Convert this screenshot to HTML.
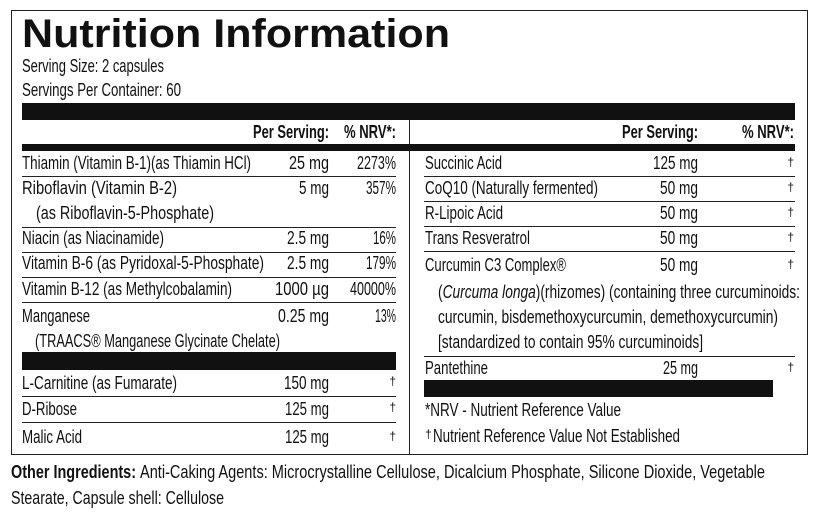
<!DOCTYPE html>
<html><head><meta charset="utf-8"><style>
html,body{margin:0;padding:0;background:#fff;}
svg{display:block}
text{font-family:"Liberation Sans",sans-serif;font-size:18px;fill:#111}
.b{font-weight:bold}
.r{text-anchor:end}
.d{font-size:12px}
</style></head><body>
<svg width="817" height="522" viewBox="0 0 817 522" xmlns="http://www.w3.org/2000/svg">
<rect x="11.5" y="10.5" width="796" height="444" fill="none" stroke="#222" stroke-width="1"/>
<text x="22" y="47" style="font-size:40px;font-weight:900" textLength="428" lengthAdjust="spacingAndGlyphs">Nutrition Information</text>
<text x="22" y="72" textLength="142" lengthAdjust="spacingAndGlyphs">Serving Size: 2 capsules</text>
<text x="22" y="96" textLength="159" lengthAdjust="spacingAndGlyphs">Servings Per Container: 60</text>
<rect x="22" y="103" width="773" height="17" fill="#111"/>
<line x1="409.5" y1="120" x2="409.5" y2="454" stroke="#222" stroke-width="1"/>
<text x="329" y="138" class="b r" textLength="76" lengthAdjust="spacingAndGlyphs">Per Serving:</text>
<text x="396" y="138" class="b r" textLength="52" lengthAdjust="spacingAndGlyphs">% NRV*:</text>
<text x="698" y="138" class="b r" textLength="76" lengthAdjust="spacingAndGlyphs">Per Serving:</text>
<text x="794" y="138" class="b r" textLength="52" lengthAdjust="spacingAndGlyphs">% NRV*:</text>
<rect x="22" y="144" width="773" height="7" fill="#111"/>
<g stroke="#222" stroke-width="1">
<line x1="22" y1="176.5" x2="396" y2="176.5"/>
<line x1="22" y1="227.5" x2="396" y2="227.5"/>
<line x1="22" y1="252.5" x2="396" y2="252.5"/>
<line x1="22" y1="277.5" x2="396" y2="277.5"/>
<line x1="22" y1="302.5" x2="396" y2="302.5"/>
<line x1="22" y1="396.5" x2="396" y2="396.5"/>
<line x1="22" y1="422.5" x2="396" y2="422.5"/>
<line x1="424" y1="176.5" x2="795" y2="176.5"/>
<line x1="424" y1="201.5" x2="795" y2="201.5"/>
<line x1="424" y1="226.5" x2="795" y2="226.5"/>
<line x1="424" y1="251.5" x2="795" y2="251.5"/>
<line x1="424" y1="356.5" x2="795" y2="356.5"/>
</g>
<g>
<text x="22" y="169" textLength="229" lengthAdjust="spacingAndGlyphs">Thiamin (Vitamin B-1)(as Thiamin HCl)</text><text x="329" y="169" class="r" textLength="40" lengthAdjust="spacingAndGlyphs">25 mg</text><text x="396" y="169" class="r" textLength="39" lengthAdjust="spacingAndGlyphs">2273%</text>
<text x="22" y="194" textLength="155" lengthAdjust="spacingAndGlyphs">Riboflavin (Vitamin B-2)</text><text x="329" y="194" class="r" textLength="30" lengthAdjust="spacingAndGlyphs">5 mg</text><text x="396" y="194" class="r" textLength="30" lengthAdjust="spacingAndGlyphs">357%</text>
<text x="36" y="219" textLength="178" lengthAdjust="spacingAndGlyphs">(as Riboflavin-5-Phosphate)</text>
<text x="22" y="244" textLength="142" lengthAdjust="spacingAndGlyphs">Niacin (as Niacinamide)</text><text x="329" y="244" class="r" textLength="42" lengthAdjust="spacingAndGlyphs">2.5 mg</text><text x="396" y="244" class="r" textLength="23" lengthAdjust="spacingAndGlyphs">16%</text>
<text x="22" y="269" textLength="242" lengthAdjust="spacingAndGlyphs">Vitamin B-6 (as Pyridoxal-5-Phosphate)</text><text x="329" y="269" class="r" textLength="42" lengthAdjust="spacingAndGlyphs">2.5 mg</text><text x="396" y="269" class="r" textLength="30" lengthAdjust="spacingAndGlyphs">179%</text>
<text x="22" y="295" textLength="210" lengthAdjust="spacingAndGlyphs">Vitamin B-12 (as Methylcobalamin)</text><text x="329" y="295" class="r" textLength="54" lengthAdjust="spacingAndGlyphs">1000 µg</text><text x="396" y="295" class="r" textLength="46" lengthAdjust="spacingAndGlyphs">40000%</text>
<text x="22" y="322" textLength="68" lengthAdjust="spacingAndGlyphs">Manganese</text><text x="329" y="322" class="r" textLength="51" lengthAdjust="spacingAndGlyphs">0.25 mg</text><text x="396" y="322" class="r" textLength="21" lengthAdjust="spacingAndGlyphs">13%</text>
<text x="35" y="347" textLength="245" lengthAdjust="spacingAndGlyphs">(TRAACS® Manganese Glycinate Chelate)</text>
<rect x="22" y="352" width="374" height="18" fill="#111"/>
<text x="22" y="389" textLength="155" lengthAdjust="spacingAndGlyphs">L-Carnitine (as Fumarate)</text><text x="329" y="389" class="r" textLength="45" lengthAdjust="spacingAndGlyphs">150 mg</text><text x="396" y="385" class="r d">†</text>
<text x="22" y="415" textLength="55" lengthAdjust="spacingAndGlyphs">D-Ribose</text><text x="329" y="415" class="r" textLength="44" lengthAdjust="spacingAndGlyphs">125 mg</text><text x="396" y="411" class="r d">†</text>
<text x="22" y="443" textLength="60" lengthAdjust="spacingAndGlyphs">Malic Acid</text><text x="329" y="443" class="r" textLength="44" lengthAdjust="spacingAndGlyphs">125 mg</text><text x="396" y="440" class="r d">†</text>

<text x="425" y="169" textLength="77" lengthAdjust="spacingAndGlyphs">Succinic Acid</text><text x="698" y="169" class="r" textLength="45" lengthAdjust="spacingAndGlyphs">125 mg</text><text x="794" y="166" class="r d">†</text>
<text x="425" y="194" textLength="173" lengthAdjust="spacingAndGlyphs">CoQ10 (Naturally fermented)</text><text x="698" y="194" class="r" textLength="38" lengthAdjust="spacingAndGlyphs">50 mg</text><text x="794" y="191" class="r d">†</text>
<text x="425" y="219" textLength="78" lengthAdjust="spacingAndGlyphs">R-Lipoic Acid</text><text x="698" y="219" class="r" textLength="38" lengthAdjust="spacingAndGlyphs">50 mg</text><text x="794" y="216" class="r d">†</text>
<text x="425" y="244" textLength="105" lengthAdjust="spacingAndGlyphs">Trans Resveratrol</text><text x="698" y="244" class="r" textLength="38" lengthAdjust="spacingAndGlyphs">50 mg</text><text x="794" y="241" class="r d">†</text>
<text x="425" y="271" textLength="141" lengthAdjust="spacingAndGlyphs">Curcumin C3 Complex®</text><text x="698" y="271" class="r" textLength="38" lengthAdjust="spacingAndGlyphs">50 mg</text><text x="794" y="268" class="r d">†</text>
<text x="438" y="298" textLength="362" lengthAdjust="spacingAndGlyphs">(<tspan font-style="italic">Curcuma longa</tspan>)(rhizomes) (containing three curcuminoids:</text>
<text x="438" y="323" textLength="340" lengthAdjust="spacingAndGlyphs">curcumin, bisdemethoxycurcumin, demethoxycurcumin)</text>
<text x="438" y="348" textLength="265" lengthAdjust="spacingAndGlyphs">[standardized to contain 95% curcuminoids]</text>
<text x="425" y="374" textLength="63" lengthAdjust="spacingAndGlyphs">Pantethine</text><text x="698" y="374" class="r" textLength="35" lengthAdjust="spacingAndGlyphs">25 mg</text><text x="794" y="371" class="r d">†</text>
<rect x="424" y="380" width="349" height="17" fill="#111"/>
<text x="425" y="416" textLength="196" lengthAdjust="spacingAndGlyphs">*NRV - Nutrient Reference Value</text>
<text x="425" y="438" class="d">†</text>
<text x="433" y="442" textLength="247" lengthAdjust="spacingAndGlyphs">Nutrient Reference Value Not Established</text>

<text x="11" y="478" class="b" textLength="125" lengthAdjust="spacingAndGlyphs">Other Ingredients:</text>
<text x="140" y="478" textLength="625" lengthAdjust="spacingAndGlyphs">Anti-Caking Agents: Microcrystalline Cellulose, Dicalcium Phosphate, Silicone Dioxide, Vegetable</text>
<text x="11" y="504" textLength="213" lengthAdjust="spacingAndGlyphs">Stearate, Capsule shell: Cellulose</text>
</g>
</svg>
</body></html>
